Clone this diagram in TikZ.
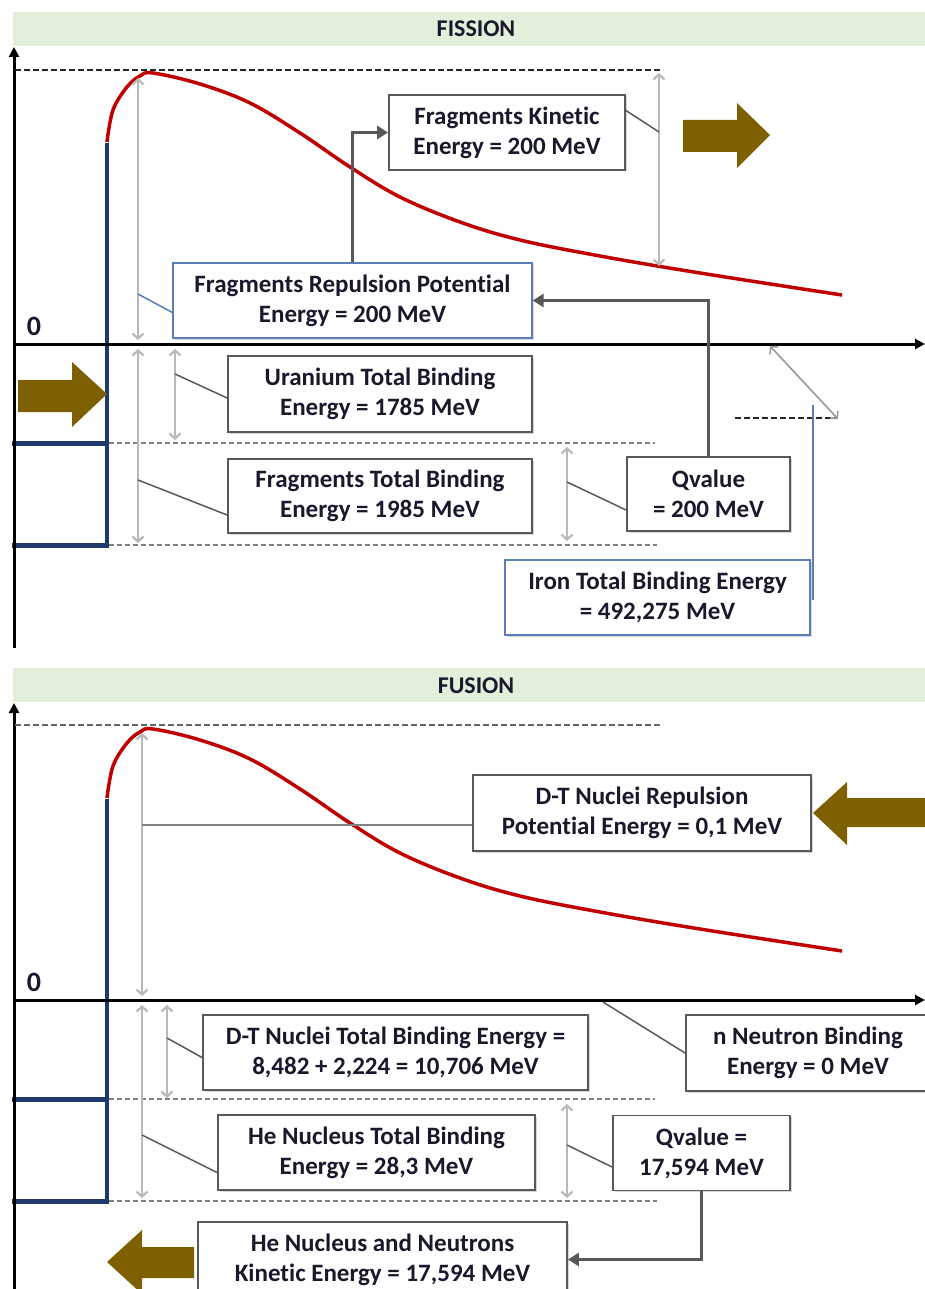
\documentclass[tikz,border=0pt]{standalone}
\usepackage{fontspec}
\setmainfont{Carlito}[Ligatures=NoCommon]
\usetikzlibrary{arrows.meta,shadows}
\definecolor{hdr}{RGB}{226,239,218}
\definecolor{navy}{RGB}{31,56,110}
\definecolor{curvered}{RGB}{192,0,0}
\definecolor{brownarr}{RGB}{127,96,0}
\definecolor{boxblue}{RGB}{91,125,190}
\definecolor{dgray}{RGB}{89,89,89}
\definecolor{lgray}{RGB}{185,185,185}
\definecolor{txt}{RGB}{25,25,45}
\tikzset{
  lbox/.style={draw=dgray, line width=1.8pt, fill=white, align=center,
    font=\fontsize{25}{30}\selectfont\bfseries, text=txt, inner sep=0pt,
    drop shadow={shadow xshift=1.5pt, shadow yshift=-1.5pt, opacity=0.3}},
  bbox/.style={lbox, draw=boxblue, line width=1.3pt},
  measure/.style={draw=lgray, line width=2.2pt, {Straight Barb[length=5pt,width=11pt]}-{Straight Barb[length=5pt,width=11pt]}},
  callout/.style={draw=dgray, line width=1.5pt},
  elbow/.style={draw=dgray, line width=3pt, -{Triangle[length=11pt,width=13pt]}},
  gdash/.style={draw=gray, line width=1.6pt, dash pattern=on 5pt off 3pt},
  kdash/.style={draw=black!85, line width=2pt, dash pattern=on 6pt off 3pt},
  axisline/.style={draw=black, line width=3pt, -{Triangle[length=10pt,width=10pt]}},
  title/.style={font=\fontsize{24}{28}\selectfont\bfseries, text=txt},
  zero/.style={font=\fontsize{28}{30}\selectfont\bfseries, text=txt},
  redcurve/.style={draw=curvered, line width=3.5pt},
  well/.style={draw=navy, line width=5pt},
  wellv/.style={draw=navy, line width=3.5pt},
  brown/.style={fill=brownarr}
}
\begin{document}
\begin{tikzpicture}[x=1pt,y=-1pt]
\useasboundingbox (0,0) rectangle (925,1289);
\clip (0,0) rectangle (925,1289);
\fill[white] (0,0) rectangle (925,1289);

% ================= common panel parts =================
\foreach \dy in {0,656}{
  \begin{scope}[shift={(0,\dy)}]
    \fill[hdr] (13,12) rectangle (925,46);
    \draw[redcurve] plot[smooth, tension=0.6] coordinates {(107,142) (113,110) (127,87) (140,76) (153,73) (200,84) (250,103) (300,133) (350,167) (400,197) (460,222) (520,240) (600,256) (700,273) (842,295)};
    \draw[wellv] (107,143) -- (107,547);
    \draw[well] (12,443) -- (109,443);
    \draw[well] (12,545) -- (109,545);
    \draw[gdash] (109,443) -- (655,443);
    \draw[gdash] (109,545) -- (657,545);
    \draw[axisline] (14,344) -- (925,344);
  \end{scope}
}
\draw[axisline] (14,648) -- (14,47);
\draw[axisline] (14,1295) -- (14,703);

% ================= FISSION =================
\node[title] (t1) at (476,29) {FISSION};
\node[zero] (z1) at (34,326) {0};
\draw[kdash] (15,70) -- (663,70);
\draw[kdash] (735,418) -- (837,418);

\coordinate (a1t) at (138,78);  \coordinate (a1b) at (138,340);
\coordinate (a2t) at (138,349); \coordinate (a2b) at (138,543);
\coordinate (a3t) at (175,349); \coordinate (a3b) at (175,440);
\coordinate (a4t) at (659,73);  \coordinate (a4b) at (659,266);
\coordinate (a5t) at (567,447); \coordinate (a5b) at (567,541);
\coordinate (a6t) at (770,346); \coordinate (a6b) at (838,419);
\draw[measure] (a1t) -- (a1b);
\draw[measure] (a2t) -- (a2b);
\draw[measure] (a3t) -- (a3b);
\draw[measure] (a4t) -- (a4b);
\draw[measure] (a5t) -- (a5b);
\draw[measure, line width=1.6pt, draw=gray!80] (a6t) -- (a6b);

\node[lbox, minimum width=236, minimum height=75] (kin) at (507,132.5) {Fragments Kinetic\\Energy = 200 MeV};
\node[bbox, minimum width=359, minimum height=75] (rep) at (352.5,300.5) {Fragments Repulsion Potential\\Energy = 200 MeV};
\node[lbox, minimum width=304, minimum height=76] (ura) at (380,394) {Uranium Total Binding\\Energy = 1785 MeV};
\node[lbox, minimum width=304, minimum height=74] (ftb) at (380,496) {Fragments Total Binding\\Energy = 1985 MeV};
\node[lbox, minimum width=163, minimum height=74] (qf) at (708.5,494) {Qvalue\\= 200 MeV};
\node[bbox, minimum width=305, minimum height=75] (iron) at (657.5,597.5) {Iron Total Binding Energy\\= 492,275 MeV};

\coordinate (ironup) at (813,405);
\draw[draw=boxblue, line width=1.3pt] (ironup) -- (813,600);

\draw[callout] ([yshift=22pt]kin.east) -- (659,132);
\draw[callout, draw=boxblue] ([yshift=-12pt]rep.west) -- (138,294);
\draw[callout] ([yshift=-4pt]ura.west) -- (a3t |- 0,374);
\draw[callout] ([yshift=-19pt]ftb.west) -- (138,480);
\draw[callout] ([yshift=-16pt]qf.west) -- (567,482);

\draw[elbow] (rep.north) |- (kin.west);
\draw[elbow] (qf.north) |- (rep.east);

\fill[brown] (683,120) -- (737,120) -- (737,103) -- (770,135) -- (737,168) -- (737,152) -- (683,152) -- cycle;
\fill[brown] (18,380) -- (72,380) -- (72,362) -- (107,394) -- (72,427) -- (72,412) -- (18,412) -- cycle;

% ================= FUSION =================
\node[title] (t2) at (476,686) {FUSION};
\node[zero] (z2) at (34,982) {0};
\draw[kdash, draw=gray!80!black] (15,725) -- (663,725);

\coordinate (b1t) at (142,733);  \coordinate (b1b) at (142,996);
\coordinate (b2t) at (142,1005); \coordinate (b2b) at (142,1198);
\coordinate (b3t) at (167,1005); \coordinate (b3b) at (167,1098);
\coordinate (b5t) at (567,1104); \coordinate (b5b) at (567,1198);
\draw[measure] (b1t) -- (b1b);
\draw[measure] (b2t) -- (b2b);
\draw[measure] (b3t) -- (b3b);
\draw[measure] (b5t) -- (b5b);

\node[lbox, minimum width=338, minimum height=76] (dtr) at (642,813) {D-T Nuclei Repulsion\\Potential Energy = 0,1 MeV};
\node[lbox, minimum width=385, minimum height=75] (dtb) at (395.5,1052.5) {D-T Nuclei Total Binding Energy =\\8,482 + 2,224 = 10,706 MeV};
\node[lbox, minimum width=317, minimum height=75] (heb) at (376.5,1152.5) {He Nucleus Total Binding\\Energy = 28,3 MeV};
\node[lbox, minimum width=244, minimum height=76] (nn) at (808,1053) {n Neutron Binding\\Energy = 0 MeV};
\node[lbox, minimum width=177, minimum height=75] (qfu) at (701.5,1153) {Qvalue =\\17,594 MeV};
\node[lbox, minimum width=369, minimum height=75] (hek) at (382.5,1259.5) {He Nucleus and Neutrons\\Kinetic Energy = 17,594 MeV};

\draw[callout, draw=gray] ([yshift=-12pt]dtr.west) -- (142,825);
\draw[callout] ([yshift=-5pt]dtb.west) -- (167,1038);
\draw[callout] ([yshift=-20pt]heb.west) -- (142,1135);
\coordinate (nnax) at (603,1002);
\draw[callout] (nn.west) -- (nnax);
\draw[callout] ([yshift=-14pt]qfu.west) -- (567,1145);

\draw[elbow] (qfu.south) |- (hek.east);

\fill[brown] (925,798) -- (847,798) -- (847,782) -- (813,813) -- (847,845) -- (847,827) -- (925,827) -- cycle;
\fill[brown] (194,1247) -- (142,1247) -- (142,1230) -- (107,1262) -- (142,1294) -- (142,1278) -- (194,1278) -- cycle;
\end{tikzpicture}
\end{document}
